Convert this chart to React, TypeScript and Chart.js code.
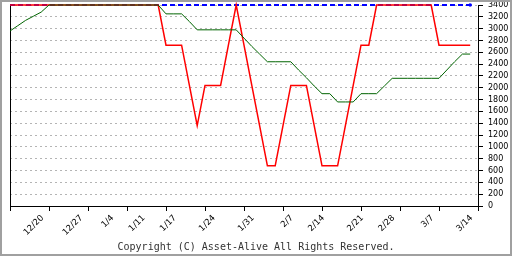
import React, { useEffect, useRef } from "react";
import { Chart, registerables } from "chart.js";

Chart.register(...registerables);

// ---- data (trading-day index 0..59) ----
const X_MIN = 0;
const X_MAX = 60;
const TICK_EVERY = 5; // tick marks every 5 trading days

const labelDays = [3, 8, 12, 16, 20, 25, 30, 35, 39, 44, 48, 53, 58];
const labelTexts = ["12/20", "12/27", "1/4", "1/11", "1/17", "1/24", "1/31", "2/7", "2/14", "2/21", "2/28", "3/7", "3/14"];

const yTickMin = 0;
const yTickMax = 3400;
const yTickStep = 200;

const greenValues = [
  2960, 3050, 3140, 3210, 3280, 3400, 3400, 3400, 3400, 3400,
  3400, 3400, 3400, 3400, 3400, 3400, 3400, 3400, 3400, 3400,
  3250, 3250, 3250, 3120, 2980, 2980, 2980, 2980, 2980, 2980,
  2840, 2700, 2570, 2440, 2440, 2440, 2440, 2300, 2170, 2030,
  1900, 1900, 1760, 1760, 1760, 1900, 1900, 1900, 2030, 2160,
  2160, 2160, 2160, 2160, 2160, 2160, 2300, 2440, 2570, 2570,
];

const redValues = [
  3400, 3400, 3400, 3400, 3400, 3400, 3400, 3400, 3400, 3400,
  3400, 3400, 3400, 3400, 3400, 3400, 3400, 3400, 3400, 3400,
  2720, 2720, 2720, 2040, 1360, 2040, 2040, 2040, 2720, 3400,
  2720, 2040, 1360, 680, 680, 1360, 2040, 2040, 2040, 1360,
  680, 680, 680, 1360, 2040, 2720, 2720, 3400, 3400, 3400,
  3400, 3400, 3400, 3400, 3400, 2720, 2720, 2720, 2720, 2720,
];

const blueValues = [
  3400, 3400, 3400, 3400, 3400, 3400, 3400, 3400, 3400, 3400,
  3400, 3400, 3400, 3400, 3400, 3400, 3400, 3400, 3400, 3400,
  3400, 3400, 3400, 3400, 3400, 3400, 3400, 3400, 3400, 3400,
  3400, 3400, 3400, 3400, 3400, 3400, 3400, 3400, 3400, 3400,
  3400, 3400, 3400, 3400, 3400, 3400, 3400, 3400, 3400, 3400,
  3400, 3400, 3400, 3400, 3400, 3400, 3400, 3400, 3400, 3400,
];

const COPYRIGHT = "Copyright (C) Asset-Alive All Rights Reserved.";

export default function App() {
  const ref = useRef<HTMLCanvasElement | null>(null);

  useEffect(() => {
    document.body.style.margin = "0";
    const canvas = ref.current;
    if (!canvas) return;

    const toPts = (arr: number[]) => arr.map((y, i) => ({ x: i, y }));
    const labelMap: Record<number, string> = {};
    labelDays.forEach((d, i) => (labelMap[d] = labelTexts[i]));
    const allDays: number[] = [];
    for (let d = X_MIN; d <= X_MAX; d++) allDays.push(d);

    const framePlugin = {
      id: "frame",
      beforeDraw(chart: any) {
        const ctx = chart.ctx;
        ctx.save();
        ctx.fillStyle = "#ffffff";
        ctx.fillRect(0, 0, chart.width, chart.height);
        ctx.restore();
      },
      afterDraw(chart: any) {
        const ctx = chart.ctx;
        ctx.save();
        ctx.strokeStyle = "#a0a0a0";
        ctx.lineWidth = 2;
        ctx.strokeRect(1, 1, chart.width - 2, chart.height - 2);
        ctx.font = '10px "DejaVu Sans Mono"';
        ctx.fillStyle = "#333333";
        ctx.textAlign = "center";
        ctx.textBaseline = "alphabetic";
        ctx.fillText(COPYRIGHT, chart.width / 2, 250);
        ctx.restore();
      },
    };

    const lastIdx = blueValues.length - 1;

    const chart = new Chart(canvas, {
      type: "line",
      data: {
        datasets: [
          {
            label: "green",
            data: toPts(greenValues),
            borderColor: "#006400",
            borderWidth: 1,
            pointRadius: 0,
            tension: 0,
            clip: false,
            order: 1,
            yAxisID: "y",
            xAxisID: "x",
          },
          {
            label: "red",
            data: toPts(redValues),
            borderColor: "#ff0000",
            borderWidth: 1.5,
            pointRadius: 0,
            tension: 0,
            clip: false,
            order: 2,
            yAxisID: "y",
            xAxisID: "x",
          },
          {
            label: "blue",
            data: toPts(blueValues),
            borderColor: "#0000ff",
            backgroundColor: "#0000ff",
            borderWidth: 2,
            borderDash: [5, 3],
            pointStyle: "rect",
            pointRadius: (c: any) => (c.dataIndex === lastIdx ? 1.5 : 0),
            pointBorderWidth: 1,
            tension: 0,
            clip: false,
            order: 3,
            yAxisID: "y",
            xAxisID: "x",
          },
        ],
      },
      options: {
        animation: false,
        responsive: false,
        events: [],
        layout: { padding: { left: 10, top: 5, right: 0, bottom: 0 } },
        plugins: {
          legend: { display: false },
          tooltip: { enabled: false },
        },
        scales: {
          x: {
            type: "linear",
            position: "bottom",
            min: X_MIN,
            max: X_MAX,
            afterBuildTicks: (s: any) => {
              s.ticks = allDays.map((v) => ({ value: v }));
            },
            afterFit: (s: any) => {
              s.height = 50;
              s.paddingLeft = 0;
              s.paddingRight = 0;
            },
            grid: {
              display: true,
              drawOnChartArea: false,
              drawTicks: true,
              tickLength: 5,
              tickWidth: 1,
              tickColor: (c: any) =>
                c.tick && c.tick.value % TICK_EVERY === 0 ? "#000000" : "rgba(0,0,0,0)",
            },
            border: { display: true, color: "#000000", width: 1 },
            ticks: {
              autoSkip: false,
              minRotation: 45,
              maxRotation: 45,
              padding: 2,
              labelOffset: 9,
              color: "#000000",
              font: { family: "DejaVu Sans", size: 8.5 },
              callback: (v: any) => labelMap[v as number] ?? "",
            },
          },
          y: {
            type: "linear",
            position: "right",
            min: yTickMin,
            max: yTickMax,
            afterFit: (s: any) => {
              s.width = 34;
              s.paddingTop = 0;
              s.paddingBottom = 0;
            },
            grid: {
              color: "#b4b4b4",
              lineWidth: 1,
              drawTicks: true,
              tickLength: 5,
              tickColor: "#000000",
            },
            border: { display: true, color: "#000000", width: 1, dash: [2, 3] },
            ticks: {
              stepSize: yTickStep,
              autoSkip: false,
              padding: 5,
              color: "#000000",
              font: { family: "DejaVu Sans", size: 8 },
              callback: (v: any) => String(v),
            },
          },
          yLeft: {
            type: "linear",
            position: "left",
            min: yTickMin,
            max: yTickMax,
            afterFit: (s: any) => {
              s.width = 0;
              s.paddingTop = 0;
              s.paddingBottom = 0;
            },
            grid: { display: false, drawTicks: false },
            border: { display: true, color: "#000000", width: 1 },
            ticks: { display: false },
          },
        },
      },
      plugins: [framePlugin],
    } as any);

    return () => chart.destroy();
  }, []);

  return (
    <div style={{ position: "absolute", left: 0, top: 0, width: 512, height: 256 }}>
      <canvas ref={ref} width={512} height={256} style={{ display: "block" }} />
    </div>
  );
}
